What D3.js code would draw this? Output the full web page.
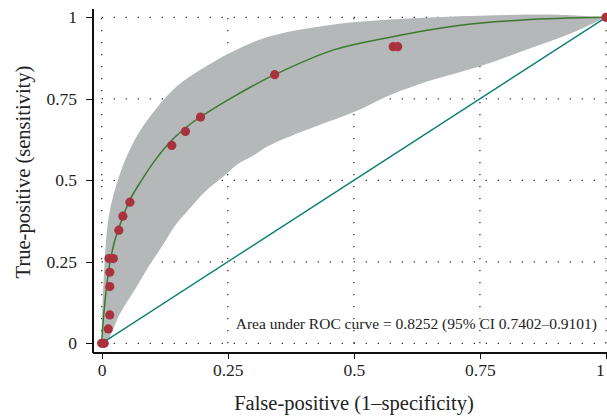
<!DOCTYPE html>
<html>
<head>
	<meta charset="utf-8">
	<title></title>
	<script src="https://cdn.jsdelivr.net/npm/d3@7/dist/d3.min.js"></script>
	<style>
		body { margin:0; background:#fff; }
		svg { display:block; }
		.tick text { font-family: "Liberation Serif", serif; font-size:17.5px; fill:#222; }
		.axis path, .axis line { stroke:#111; stroke-width:1.3; shape-rendering:crispEdges; }
		.grid line { stroke:#222; stroke-width:1.2; stroke-dasharray:1.2,10.8; }
		.title { font-family: "Liberation Serif", serif; font-size:20.5px; fill:#222; }
		.note { font-family: "Liberation Serif", serif; font-size:15.5px; fill:#222; }
	</style>
</head>
<body>
	<svg></svg>
	<script>
	// observed ROC points (1-specificity, sensitivity)
	var fpr = [0, 0.005, 0.013, 0.016, 0.016, 0.016, 0.0145, 0.023, 0.034, 0.042, 0.056, 0.139, 0.166, 0.196, 0.343, 0.578, 0.587, 1];
	var tpr = [0, 0, 0.044, 0.087, 0.174, 0.218, 0.26, 0.26, 0.347, 0.39, 0.433, 0.607, 0.650, 0.694, 0.824, 0.910, 0.910, 1];

	// fitted ROC curve
	var fitX = [0, 0.003, 0.008, 0.015, 0.025, 0.04, 0.056, 0.079, 0.106, 0.139, 0.178, 0.218, 0.26, 0.30, 0.343, 0.46, 0.572, 0.704, 0.836, 1];
	var fitY = [0, 0.07, 0.15, 0.235, 0.31, 0.38, 0.44, 0.5, 0.562, 0.623, 0.675, 0.716, 0.755, 0.79, 0.824, 0.90, 0.939, 0.974, 0.992, 1];

	// confidence band edges
	var upX = [0, 0.001, 0.004, 0.007, 0.013, 0.026, 0.046, 0.073, 0.106, 0.15, 0.195, 0.225, 0.26, 0.33, 0.46, 0.59, 0.75, 0.9, 1];
	var upY = [0, 0.1, 0.2, 0.28, 0.378, 0.47, 0.56, 0.644, 0.716, 0.79, 0.838, 0.866, 0.895, 0.94, 0.978, 0.995, 1.005, 1.008, 1];
	var loX = [0, 0.008, 0.036, 0.066, 0.089, 0.119, 0.145, 0.172, 0.205, 0.24, 0.27, 0.3, 0.33, 0.39, 0.45, 0.51, 0.57, 0.65, 0.75, 0.85, 0.93, 1];
	var loY = [0, 0, 0.09, 0.165, 0.225, 0.296, 0.36, 0.409, 0.465, 0.51, 0.55, 0.575, 0.605, 0.645, 0.68, 0.716, 0.76, 0.805, 0.85, 0.905, 0.95, 1];

	var ticks = [0, 0.25, 0.5, 0.75, 1];
	var tickLabels = ["0", "0.25", "0.5", "0.75", "1"];
	var aucText = "Area under ROC curve = 0.8252 (95% CI 0.7402\u20130.9101)";

	var W = 607, H = 419;
	var x = d3.scaleLinear().domain([0, 1]).range([101.7, 606]);
	var y = d3.scaleLinear().domain([0, 1]).range([343.3, 17.3]);

	var svg = d3.select("svg").attr("width", W).attr("height", H);

	// dotted grid
	var grid = svg.append("g").attr("class", "grid");
	grid.selectAll("line.v").data(ticks).enter().append("line")
		.attr("x1", function(d) { return x(d); }).attr("x2", function(d) { return x(d); })
		.attr("y1", y(0)).attr("y2", y(1));
	grid.selectAll("line.h").data(ticks).enter().append("line")
		.attr("y1", function(d) { return y(d); }).attr("y2", function(d) { return y(d); })
		.attr("x1", x(0)).attr("x2", x(1));

	// confidence band
	var up = upX.map(function(d, i) { return [d, upY[i]]; });
	var lo = loX.map(function(d, i) { return [d, loY[i]]; }).reverse();
	var line = d3.line().x(function(d) { return x(d[0]); }).y(function(d) { return y(d[1]); })
		.curve(d3.curveCatmullRom.alpha(0.5));
	svg.append("path")
		.attr("d", line(up) + "L" + line(lo).slice(1) + "Z")
		.attr("fill", "#b5b8b9");

	// chance line
	svg.append("path")
		.attr("d", d3.line().x(function(d) { return x(d); }).y(function(d) { return y(d); })([0, 1]))
		.attr("stroke", "#0e7f78").attr("stroke-width", 1.4).attr("fill", "none");

	// fitted curve
	svg.append("path")
		.attr("d", line(fitX.map(function(d, i) { return [d, fitY[i]]; })))
		.attr("stroke", "#3b7a2e").attr("stroke-width", 1.5).attr("fill", "none");

	// points
	svg.selectAll("circle").data(fpr).enter().append("circle")
		.attr("cx", function(d) { return x(d); })
		.attr("cy", function(d, i) { return y(tpr[i]); })
		.attr("r", 4.6)
		.attr("fill", "#a8333e");

	// axes (scales extended so the axis lines run past the data area)
	var xa = x.copy().domain([-0.018, 1.002]).range([x(-0.018), x(1.002)]);
	var ya = y.copy().domain([-0.028, 1.028]).range([y(-0.028), y(1.028)]);

	var gx = svg.append("g").attr("class", "axis")
		.attr("transform", "translate(0,352.5)")
		.call(d3.axisBottom(xa).tickValues(ticks).tickSize(6.5).tickSizeOuter(0).tickPadding(5)
			.tickFormat(function(d, i) { return tickLabels[i]; }));
	// keep the last label inside the picture
	gx.selectAll(".tick text").filter(function(d) { return d === 1; }).attr("text-anchor", "end").attr("dx", "-0.1em");

	svg.append("g").attr("class", "axis")
		.attr("transform", "translate(92.5,0)")
		.call(d3.axisLeft(ya).tickValues(ticks).tickSize(6.5).tickSizeOuter(0).tickPadding(9)
			.tickFormat(function(d, i) { return tickLabels[i]; }));

	// titles
	svg.append("text").attr("class", "title")
		.attr("x", 354).attr("y", 410).attr("text-anchor", "middle")
		.text("False-positive (1\u2013specificity)");
	svg.append("text").attr("class", "title")
		.attr("transform", "translate(30,172) rotate(-90)").attr("text-anchor", "middle")
		.text("True-positive (sensitivity)");

	svg.append("text").attr("class", "note")
		.attr("x", 597).attr("y", 329).attr("text-anchor", "end")
		.text(aucText);
	</script>
</body>
</html>
